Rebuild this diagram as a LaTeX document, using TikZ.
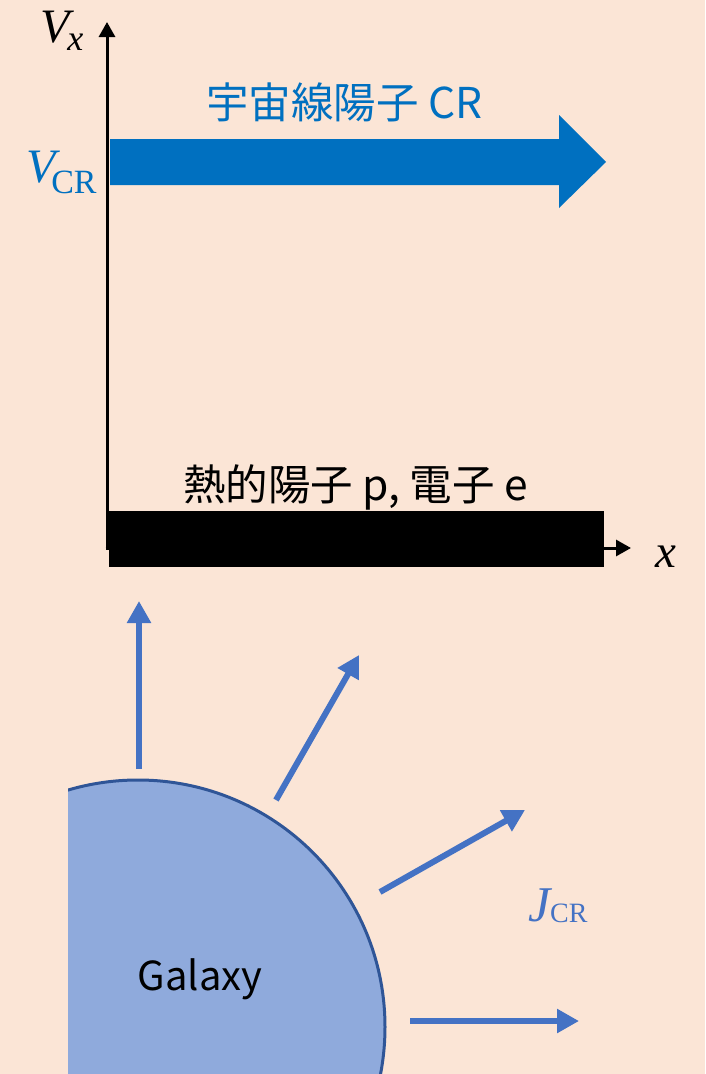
\documentclass[tikz,border=0pt]{standalone}
\usepackage[no-math]{fontspec}
\setmainfont{Noto Sans CJK JP}
\newfontfamily\lmr{Liberation Serif}
\usetikzlibrary{arrows.meta}
\definecolor{bg}{HTML}{FBE5D6}
\definecolor{crblue}{HTML}{0070C0}
\definecolor{jblue}{HTML}{4472C4}
\definecolor{galfill}{HTML}{8FAADC}
\definecolor{galedge}{HTML}{2F5597}
\newcommand\fs[1]{\fontsize{#1}{#1}\selectfont}
\newcommand\mi[2]{{\lmr\itshape\fs{#1}#2}}
\newcommand\mr[2]{{\lmr\upshape\fs{#1}#2}}
\begin{document}
\begin{tikzpicture}[x=1pt,y=-1pt,
  axis/.style={line width=3pt,-{Triangle[length=15pt,width=16pt]}},
  flux/.style={jblue,line width=6pt,-{Triangle[length=22pt,width=23pt]}},
  lbl/.style={inner sep=0pt,outer sep=0pt},
  cjk/.style={lbl,anchor=base,font=\fs{42.5}}]
\useasboundingbox (0,0) rectangle (705,1074);
\fill[bg] (0,0) rectangle (705,1074);

% galaxy
\begin{scope}
\clip (68,0) rectangle (705,1074);
\node[circle,draw=galedge,line width=3pt,fill=galfill,minimum size=494pt,inner sep=0pt] (gal) at (138,1027) {};
\end{scope}
\node[cjk,anchor=base,font=\fs{40}] (galtxt) at (200,990) {Galaxy};

% axes
\coordinate (o) at (107,548);
\coordinate (ytop) at (107,22);
\coordinate (xend) at (631,548);
\draw[axis] (107,549.5) -- (ytop);
\draw[axis] (105.5,548) -- (xend);

% thermal plasma bar
\fill[black] (109,511) rectangle (604,567);
\node[cjk] (thermal) at (355.5,500) {熱的陽子 p, 電子 e};

% cosmic ray arrow
\fill[crblue] (110,139) -- (559,139) -- (559,115) -- (606,162) -- (559,208) -- (559,185) -- (110,185) -- cycle;
\node[cjk,text=crblue] (crtxt) at (344.5,118) {宇宙線陽子 CR};

% math labels
\node[lbl,anchor=base west] (vx) at (40,42) {\mi{48}{V}\kern-2pt\raisebox{-8pt}{\mi{36}{x}}};
\node[lbl,anchor=base west,text=crblue] (vcr) at (26,182) {\mi{48}{V}\kern-4pt\raisebox{-11pt}{\mr{34}{CR}}};
\node[lbl,anchor=base west] (xl) at (655,567) {\mi{47}{x}};
\node[lbl,anchor=base west,text=jblue] (jcr) at (528,921) {\mi{50}{J}\raisebox{-1pt}{\mr{28}{CR}}};

% flux arrows
\coordinate (a1s) at (139,769); \coordinate (a1e) at (139,601);
\coordinate (a2s) at (276,800); \coordinate (a2e) at (359,655);
\coordinate (a3s) at (380,892); \coordinate (a3e) at (525,810);
\coordinate (a4s) at (410,1021); \coordinate (a4e) at (579,1021);
\draw[flux] (a1s) -- (a1e);
\draw[flux] (a2s) -- (a2e);
\draw[flux] (a3s) -- (a3e);
\draw[flux] (a4s) -- (a4e);
\end{tikzpicture}
\end{document}
